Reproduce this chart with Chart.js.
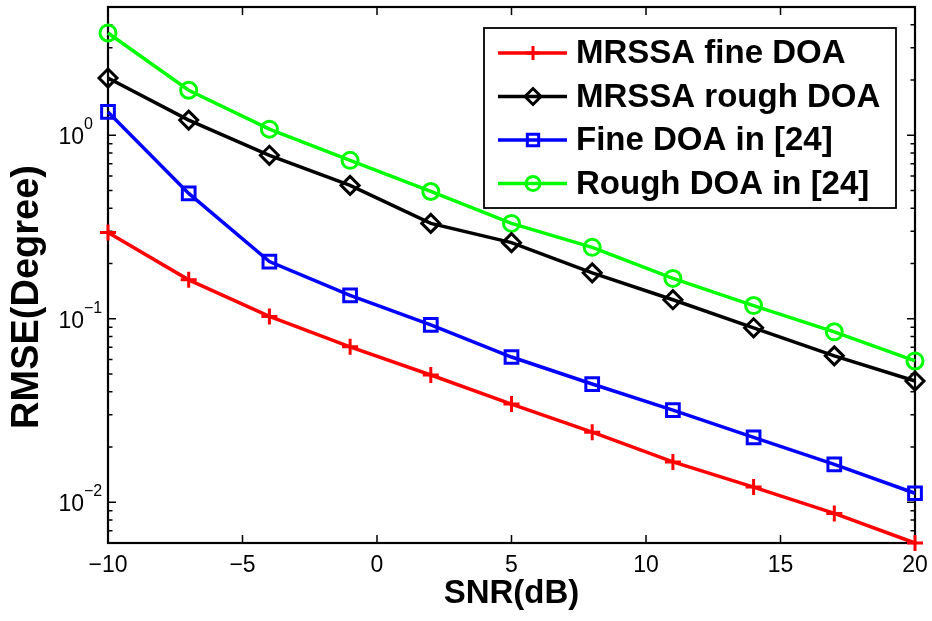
<!DOCTYPE html>
<html>
<head>
<meta charset="utf-8">
<script src="https://cdn.jsdelivr.net/npm/chart.js@4.4.1/dist/chart.umd.min.js"></script>
<style>
  html, body { margin: 0; padding: 0; background: #fff; }
  #wrap { width: 932px; height: 621px; }
</style>
</head>
<body>
<div id="wrap"><canvas id="rmseChart" width="932" height="621"></canvas></div>
<script>
// SNR (dB) on the x axis
var snr = [-10, -7, -4, -1, 2, 5, 8, 11, 14, 17, 20];

// RMSE (degree)
var mrssaFine = [0.295, 0.163, 0.103, 0.0703, 0.0494, 0.0343, 0.0241, 0.0166, 0.0121, 0.0087, 0.006];
var mrssaRough = [2.05, 1.21, 0.778, 0.533, 0.331, 0.26, 0.178, 0.127, 0.0893, 0.0628, 0.0458];
var fineRef = [1.34, 0.482, 0.205, 0.134, 0.0927, 0.0619, 0.0441, 0.0318, 0.0226, 0.0161, 0.0112];
var roughRef = [3.61, 1.76, 1.08, 0.73, 0.494, 0.331, 0.245, 0.166, 0.118, 0.0849, 0.0589];

var seriesLabels = ["MRSSA fine DOA", "MRSSA rough DOA", "Fine DOA in [24]", "Rough DOA in [24]"];

// ticks
var xTicks = [-10, -5, 0, 5, 10, 15, 20];
var yMajorTicks = [0.01, 0.1, 1];
var yTickExponents = ["\u22122", "\u22121", "0"];
var yMinorTicks = [0.006, 0.007, 0.008, 0.009,
  0.02, 0.03, 0.04, 0.05, 0.06, 0.07, 0.08, 0.09,
  0.2, 0.3, 0.4, 0.5, 0.6, 0.7, 0.8, 0.9,
  2, 3, 4, 5];

var fontFamily = '"Liberation Sans", Arial, Helvetica, sans-serif';

function makeSeries(label, values, color, style, radius) {
  return {
    label: label,
    data: snr.map(function(x, i) { return { x: x, y: values[i] }; }),
    borderColor: color,
    backgroundColor: "transparent",
    borderWidth: 3.5,
    pointStyle: style,
    pointRadius: radius,
    pointBorderWidth: 3,
    pointBorderColor: color,
    pointBackgroundColor: "rgba(0,0,0,0)",
    tension: 0,
    clip: false
  };
}

// box round the plot, inward ticks, y labels and y title
var axisFrame = {
  id: "axisFrame",
  beforeDatasetsDraw: function(chart) {
    var ctx = chart.ctx;
    var a = chart.chartArea;
    var xs = chart.scales.x;
    var ys = chart.scales.y;
    ctx.save();
    ctx.strokeStyle = "#000";
    ctx.lineWidth = 1.5;
    ctx.beginPath();
    xTicks.forEach(function(v) {
      var px = xs.getPixelForValue(v);
      ctx.moveTo(px, a.bottom); ctx.lineTo(px, a.bottom - 8);
      ctx.moveTo(px, a.top); ctx.lineTo(px, a.top + 8);
    });
    yMajorTicks.forEach(function(v) {
      var py = ys.getPixelForValue(v);
      ctx.moveTo(a.left, py); ctx.lineTo(a.left + 8, py);
      ctx.moveTo(a.right, py); ctx.lineTo(a.right - 8, py);
    });
    yMinorTicks.forEach(function(v) {
      var py = ys.getPixelForValue(v);
      ctx.moveTo(a.left, py); ctx.lineTo(a.left + 4.5, py);
      ctx.moveTo(a.right, py); ctx.lineTo(a.right - 4.5, py);
    });
    ctx.stroke();

    ctx.lineWidth = 2.2;
    ctx.strokeRect(a.left, a.top, a.right - a.left, a.bottom - a.top);

    // 10^n labels
    ctx.fillStyle = "#000";
    yMajorTicks.forEach(function(v, i) {
      var py = ys.getPixelForValue(v);
      ctx.font = "23px " + fontFamily;
      ctx.textAlign = "right";
      ctx.textBaseline = "alphabetic";
      ctx.fillText("10", a.left - 24, py + 9);
      ctx.font = "16px " + fontFamily;
      ctx.textAlign = "left";
      ctx.fillText(yTickExponents[i], a.left - 24, py - 6);
    });

    // y title
    ctx.translate(28, 297);
    ctx.rotate(-Math.PI / 2);
    ctx.font = "bold 38px " + fontFamily;
    ctx.textAlign = "center";
    ctx.textBaseline = "middle";
    ctx.fillText("RMSE(Degree)", 0, 0);
    ctx.restore();
  }
};

// legend box in the top right corner
var legendBox = {
  id: "legendBox",
  afterDatasetsDraw: function(chart) {
    var ctx = chart.ctx;
    var left = 484, top = 28, w = 412, h = 180;
    ctx.save();
    ctx.fillStyle = "#fff";
    ctx.fillRect(left, top, w, h);
    ctx.strokeStyle = "#000";
    ctx.lineWidth = 1.8;
    ctx.strokeRect(left, top, w, h);
    chart.data.datasets.forEach(function(ds, i) {
      var y = 53 + i * 43.5;
      ctx.strokeStyle = ds.borderColor;
      ctx.lineWidth = 3.5;
      ctx.beginPath();
      ctx.moveTo(498, y);
      ctx.lineTo(567, y);
      ctx.stroke();
      ctx.lineWidth = ds.pointBorderWidth;
      ctx.fillStyle = "rgba(0,0,0,0)";
      Chart.helpers.drawPoint(ctx, {
        pointStyle: ds.pointStyle,
        radius: ds.pointRadius - 1,
        borderWidth: ds.pointBorderWidth,
        rotation: 0
      }, 533, y);
      ctx.fillStyle = "#000";
      ctx.font = "bold 33px " + fontFamily;
      ctx.textAlign = "left";
      ctx.textBaseline = "middle";
      ctx.fillText(ds.label, 576, y + 1);
    });
    ctx.restore();
  }
};

var ctx = document.getElementById("rmseChart").getContext("2d");
var rmseChart = new Chart(ctx, {
  type: "line",
  data: {
    datasets: [
      makeSeries(seriesLabels[0], mrssaFine, "#ff0000", "cross", 8),
      makeSeries(seriesLabels[1], mrssaRough, "#000000", "rectRot", 9),
      makeSeries(seriesLabels[2], fineRef, "#0000ff", "rect", 9),
      makeSeries(seriesLabels[3], roughRef, "#00ff00", "circle", 8)
    ]
  },
  options: {
    responsive: false,
    animation: false,
    devicePixelRatio: 1,
    layout: {
      autoPadding: false,
      padding: { top: 7, right: 17, left: 0, bottom: 0 }
    },
    plugins: {
      legend: { display: false },
      tooltip: { enabled: false }
    },
    scales: {
      x: {
        type: "linear",
        min: -10,
        max: 20,
        grid: { display: false, drawTicks: false },
        border: { display: false },
        afterBuildTicks: function(s) {
          s.ticks = xTicks.map(function(v) { return { value: v }; });
        },
        ticks: {
          padding: 9,
          color: "#000",
          maxRotation: 0,
          font: { family: fontFamily, size: 23 },
          callback: function(v) { return v < 0 ? "\u2212" + Math.abs(v) : String(v); }
        },
        title: {
          display: true,
          text: "SNR(dB)",
          color: "#000",
          font: { family: fontFamily, size: 33, weight: "bold" },
          padding: { top: 0, bottom: 7 }
        },
        afterFit: function(s) {
          s.height = 78;
          // label overhang is already covered by the layout padding
          s.paddingLeft = 0;
          s.paddingRight = 0;
        }
      },
      y: {
        type: "logarithmic",
        min: 0.006,
        max: 5,
        grid: { display: false, drawTicks: false },
        border: { display: false },
        ticks: { display: false },
        afterBuildTicks: function(s) {
          s.ticks = yMajorTicks.concat(yMinorTicks).map(function(v) { return { value: v }; });
        },
        afterFit: function(s) {
          s.width = 108;
          s.paddingTop = 0;
          s.paddingBottom = 0;
        }
      }
    }
  },
  plugins: [axisFrame, legendBox]
});
</script>
</body>
</html>
